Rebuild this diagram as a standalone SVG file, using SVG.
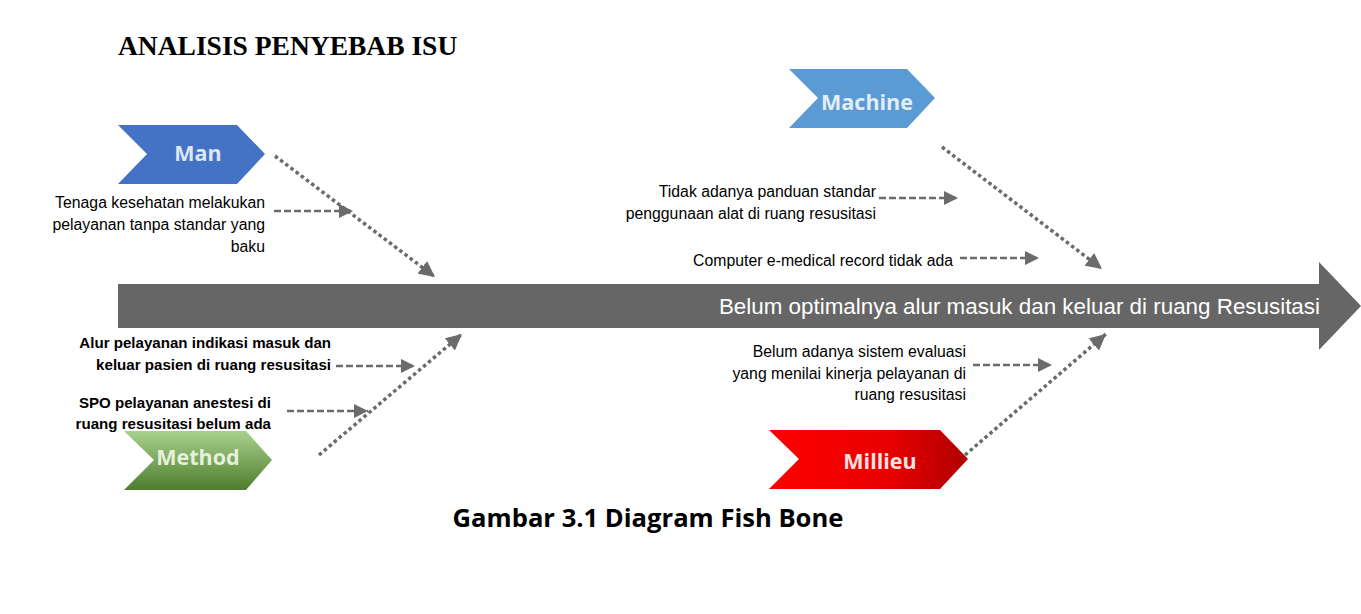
<svg xmlns="http://www.w3.org/2000/svg" width="1361" height="614" viewBox="0 0 1361 614">
<style>
.lbl{font-family:"Liberation Sans",Arial,sans-serif;font-size:15.8px;fill:#000;text-anchor:end}
.lblb{font-family:"Liberation Sans",Arial,sans-serif;font-size:15.1px;font-weight:bold;fill:#000;text-anchor:end}
.cat{font-family:"Open Sans","Liberation Sans",sans-serif;font-size:21.5px;font-weight:bold;text-anchor:middle}
.dot{stroke:#6b6b6b;stroke-width:3.5;stroke-dasharray:3.5 3;fill:none}
.dash{stroke:#6b6b6b;stroke-width:2.5;stroke-dasharray:7 3;fill:none}
</style>
<defs>
<marker id="ah" markerUnits="userSpaceOnUse" markerWidth="18" markerHeight="16" refX="16" refY="8" orient="auto"><path d="M0,0 L16,8 L0,16 Z" fill="#6b6b6b"/></marker>
<marker id="ah2" markerUnits="userSpaceOnUse" markerWidth="16" markerHeight="14" refX="14" refY="7" orient="auto"><path d="M0,0 L14,7 L0,14 Z" fill="#6b6b6b"/></marker>
<linearGradient id="gG" x1="0" y1="0" x2="0" y2="1"><stop offset="0" stop-color="#a9d18e"/><stop offset="1" stop-color="#4e7d2e"/></linearGradient>
<linearGradient id="gR" x1="0" y1="0" x2="1" y2="0"><stop offset="0" stop-color="#ff0000"/><stop offset="0.6" stop-color="#e80000"/><stop offset="1" stop-color="#b00000"/></linearGradient>
</defs>
<rect width="1361" height="614" fill="#fff"/>
<text x="118" y="55" font-family="'Liberation Serif','Times New Roman',serif" font-size="27.5" font-weight="bold">ANALISIS PENYEBAB ISU</text>

<g id="spine">
<path d="M118,284 L1319,284 L1319,262 L1361,306 L1319,350 L1319,328 L118,328 Z" fill="#666666"/>
<text x="1320" y="314" font-family="'Liberation Sans',Arial,sans-serif" font-size="22.4" fill="#fff" text-anchor="end">Belum optimalnya alur masuk dan keluar di ruang Resusitasi</text>
</g>

<g id="man">
<path d="M118,125 L237,125 L265,154 L237,184 L118,184 L147,154 Z" fill="#4472c4"/>
<text class="cat" x="198" y="161" fill="#dde6f3">Man</text>
</g>
<g id="machine">
<path d="M789,69 L907,69 L935,98 L907,128 L789,128 L818,98 Z" fill="#5b9bd5"/>
<text class="cat" x="867" y="110" fill="#e3edf7">Machine</text>
</g>
<g id="method">
<path d="M124,431 L246,431 L272,460 L246,490 L124,490 L154,460 Z" fill="url(#gG)"/>
<text class="cat" x="198" y="465" fill="#e6f0dc">Method</text>
</g>
<g id="millieu">
<path d="M769,430 L940,430 L968,459 L940,489 L769,489 L799,459 Z" fill="url(#gR)"/>
<text class="cat" x="880" y="469" fill="#fbe0e0" font-family="'Liberation Sans',Arial,sans-serif">Millieu</text>
</g>

<g id="cause-man">
<text class="lbl" x="265" y="208">Tenaga kesehatan melakukan</text>
<text class="lbl" x="265" y="230">pelayanan tanpa standar yang</text>
<text class="lbl" x="265" y="252">baku</text>
</g>
<g id="cause-method">
<text class="lblb" x="331" y="348">Alur pelayanan indikasi masuk dan</text>
<text class="lblb" x="331" y="370">keluar pasien di ruang resusitasi</text>
<text class="lblb" x="271" y="408">SPO pelayanan anestesi di</text>
<text class="lblb" x="271" y="429">ruang resusitasi belum ada</text>
</g>
<g id="cause-machine">
<text class="lbl" x="876" y="197">Tidak adanya panduan standar</text>
<text class="lbl" x="876" y="219">penggunaan alat di ruang resusitasi</text>
<text class="lbl" x="953" y="266">Computer e-medical record tidak ada</text>
</g>
<g id="cause-millieu">
<text class="lbl" x="966" y="357">Belum adanya sistem evaluasi</text>
<text class="lbl" x="966" y="379">yang menilai kinerja pelayanan di</text>
<text class="lbl" x="966" y="400">ruang resusitasi</text>
</g>

<g id="connectors">
<line class="dot" x1="275" y1="156" x2="435" y2="277" marker-end="url(#ah)"/>
<line class="dot" x1="942" y1="147" x2="1102" y2="269" marker-end="url(#ah)"/>
<line class="dot" x1="319" y1="455" x2="462" y2="334" marker-end="url(#ah)"/>
<line class="dot" x1="965" y1="455" x2="1106" y2="334" marker-end="url(#ah)"/>
<line class="dash" x1="274" y1="211" x2="353" y2="211" marker-end="url(#ah2)"/>
<line class="dash" x1="879" y1="198" x2="958" y2="198" marker-end="url(#ah2)"/>
<line class="dash" x1="960" y1="258" x2="1039" y2="258" marker-end="url(#ah2)"/>
<line class="dash" x1="336" y1="366" x2="415" y2="366" marker-end="url(#ah2)"/>
<line class="dash" x1="287" y1="411" x2="368" y2="411" marker-end="url(#ah2)"/>
<line class="dash" x1="973" y1="365" x2="1052" y2="365" marker-end="url(#ah2)"/>
</g>

<text x="648" y="527" font-family="'Open Sans','Liberation Sans',sans-serif" font-size="25.6" font-weight="bold" text-anchor="middle">Gambar 3.1 Diagram Fish Bone</text>
</svg>
